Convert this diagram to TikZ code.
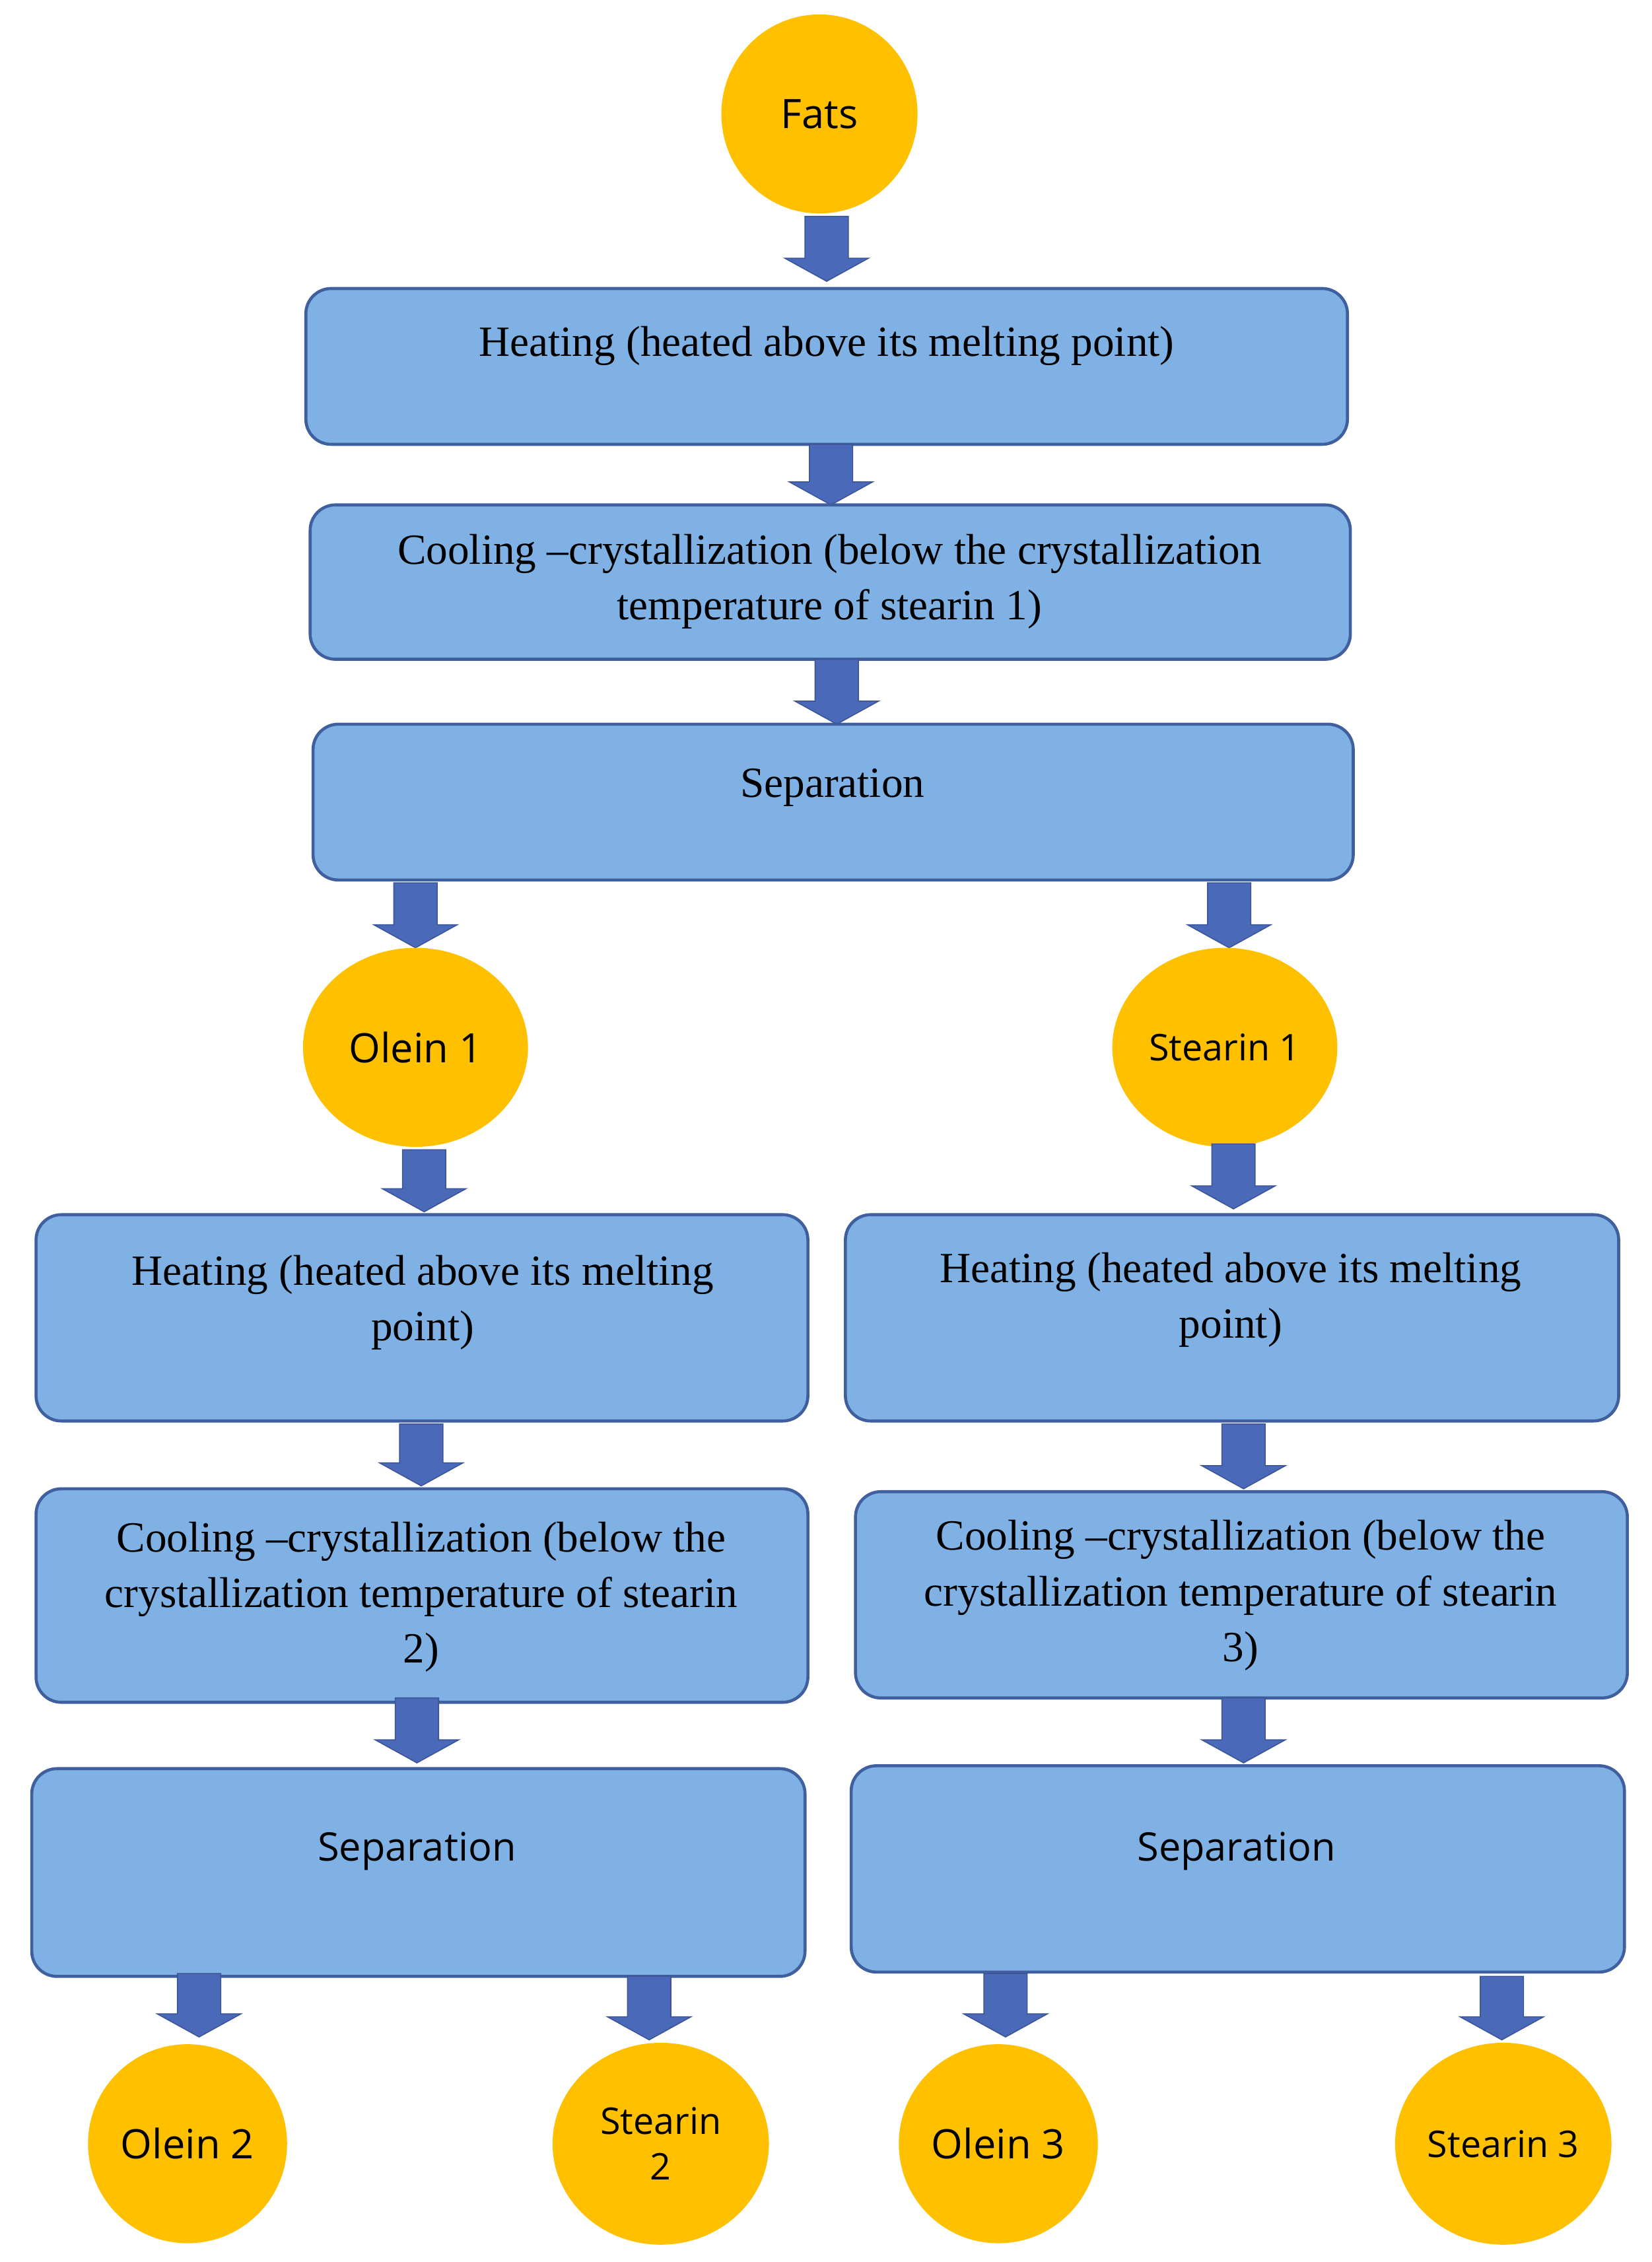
\documentclass[tikz,border=0pt]{standalone}
\usepackage{fontspec}
\setmainfont{Liberation Serif}
\newfontfamily\sansf{Open Sans}
\usetikzlibrary{shapes.geometric}
\definecolor{yel}{HTML}{FFC000}
\definecolor{boxf}{HTML}{7FB1E4}
\definecolor{boxd}{HTML}{3F5F9F}
\definecolor{arr}{HTML}{4A69B9}
\tikzset{
 x=0.02cm,y=-0.02cm,
 box/.style={draw=boxd,line width=1.2pt,fill=boxf,rounded corners=0.35cm},
 circ/.style={ellipse,fill=yel,inner sep=0pt,font=\sansf\fontsize{16}{19}\selectfont,align=center},
 txt/.style={font=\fontsize{17}{22}\selectfont,align=center},
 stxt/.style={font=\sansf\fontsize{15.5}{19}\selectfont,align=center},
 barr/.style={fill=arr,draw=arr!80!black,line width=0.4pt}
}
\newcommand\darr[3]{\fill[barr] (#1-15,#2) -- (#1+15,#2) -- (#1+15,#3-16) -- (#1+29,#3-16) -- (#1,#3) -- (#1-29,#3-16) -- (#1-15,#3-16) -- cycle;}
\begin{document}
\begin{tikzpicture}
\useasboundingbox (0,0) rectangle (1145,1568);
\node[circ,minimum width=2.72cm,minimum height=2.76cm] (fats) at (568,79) {Fats};
\darr{573}{150}{195}
\draw[box] (212,200) rectangle (934,308);
\node[txt] (t1) at (573,240) {Heating (heated above its melting point)};
\darr{576}{308}{350}
\draw[box] (215,350) rectangle (936,457);
\node[txt] (t2) at (575,403) {Cooling --crystallization (below the crystallization\\temperature of stearin 1)};
\darr{580}{457}{502}
\draw[box] (217,502) rectangle (938,610);
\node[txt] (t3) at (577,546) {Separation};
\darr{288}{612}{657}
\darr{852}{612}{657}
\node[circ,minimum width=3.12cm,minimum height=2.76cm] (o1) at (288,726) {Olein 1};
\node[circ,minimum width=3.12cm,minimum height=2.76cm,font=\sansf\fontsize{14.5}{18}\selectfont] (s1) at (849,726) {Stearin 1};
\darr{294}{797}{840}
\darr{855}{793}{838}
\draw[box] (25,842) rectangle (560,985);
\node[txt] (l1) at (293,903) {Heating (heated above its melting\\point)};
\draw[box] (586,842) rectangle (1122,985);
\node[txt] (r1) at (853,901) {Heating (heated above its melting\\point)};
\darr{292}{987}{1030}
\darr{862}{987}{1032}
\draw[box] (25,1032) rectangle (560,1180);
\node[txt] (l2) at (292,1107) {Cooling --crystallization (below the\\crystallization temperature of stearin\\2)};
\draw[box] (593,1034) rectangle (1128,1177);
\node[txt] (r2) at (860,1106) {Cooling --crystallization (below the\\crystallization temperature of stearin\\3)};
\darr{289}{1177}{1222}
\darr{862}{1177}{1222}
\draw[box] (22,1226) rectangle (558,1370);
\node[stxt] (l3) at (289,1283) {Separation};
\draw[box] (590,1224) rectangle (1126,1367);
\node[stxt] (r3) at (857,1283) {Separation};
\darr{138}{1368}{1412}
\darr{450}{1370}{1414}
\darr{697}{1368}{1412}
\darr{1041}{1370}{1414}
\node[circ,minimum width=2.76cm,minimum height=2.76cm] (o2) at (130,1486) {Olein 2};
\node[circ,minimum width=3.0cm,minimum height=2.8cm,font=\sansf\fontsize{14.5}{18}\selectfont] (s2) at (458,1486) {Stearin\\2};
\node[circ,minimum width=2.76cm,minimum height=2.76cm] (o3) at (692,1486) {Olein 3};
\node[circ,minimum width=3.0cm,minimum height=2.8cm,font=\sansf\fontsize{14.5}{18}\selectfont] (s3) at (1042,1486) {Stearin 3};
\end{tikzpicture}
\end{document}
